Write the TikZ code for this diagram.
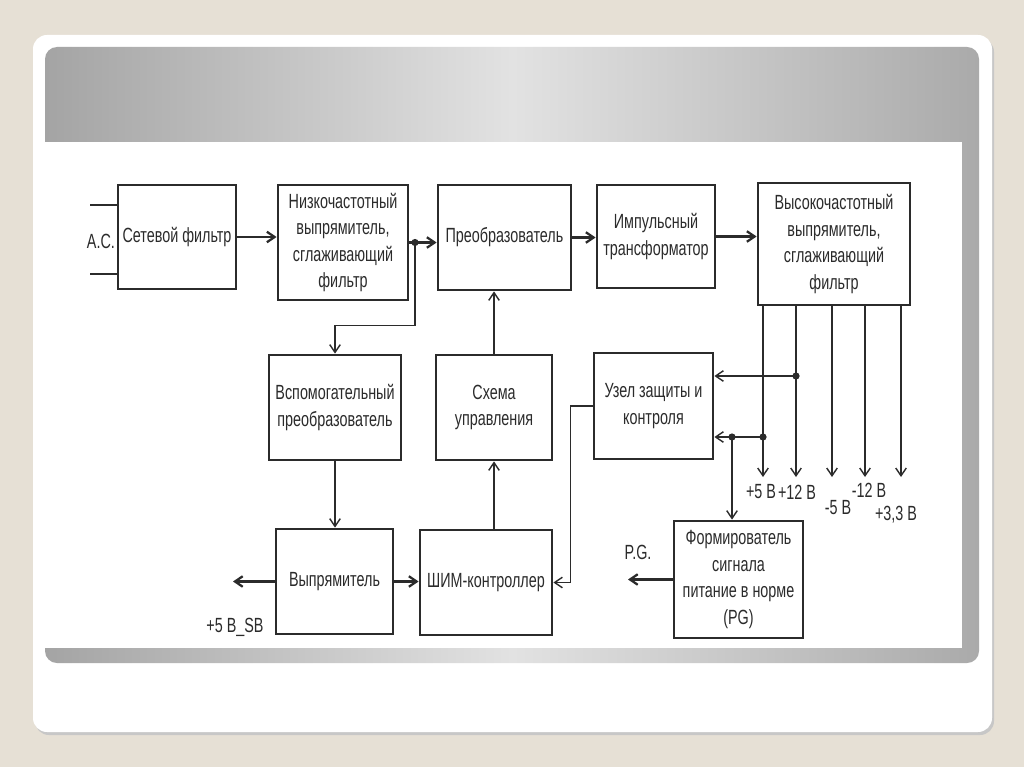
\documentclass[tikz,border=0pt]{standalone}
\usepackage{fontspec}
\setmainfont{Liberation Sans}[FakeStretch=0.7]
\usepackage{tikz}
\usetikzlibrary{positioning,arrows.meta}
\definecolor{ink}{HTML}{2B2B2B}
\definecolor{paper}{HTML}{E6E0D5}
\definecolor{bandl}{HTML}{A4A4A4}
\definecolor{bandm}{HTML}{E2E2E2}
\definecolor{bandr}{HTML}{AAAAAA}

\begin{document}
\begin{tikzpicture}[
  x=0.25mm, y=-0.25mm,
  >={Straight Barb[length=5.5pt,width=7.5pt]},
  blk/.style={draw=ink, line width=2pt, fill=white, align=center, text=ink, inner sep=2pt, font=\fontsize{14.6}{18.8}\selectfont},
  lbl/.style={text=ink, inner sep=0pt, align=center, font=\fontsize{14.6}{18.8}\selectfont},
  arr/.style={->, draw=ink, line width=1pt},
  harr/.style={arr, line width=1.6pt},
  wire/.style={draw=ink, line width=1.6pt}
]

  % Фон слайда
  \useasboundingbox (0,0) rectangle (1024,767);
  \fill[paper] (0,0) rectangle (1024,767);
  \fill[black!22, rounded corners=3.5mm] (35,38) rectangle (994,735);
  \fill[white, rounded corners=3.5mm] (33,35) rectangle (992,732);
  \shade[left color=bandl, right color=bandr, middle color=bandm, rounded corners=3mm] (45,47) rectangle (979,663);
  \fill[white] (45,142) rectangle (962,648);

  % Верхний ряд
  \node[blk, minimum width=29.5mm, minimum height=26mm] (net) at (177,237) {Сетевой фильтр};
  \node[blk, minimum width=32.5mm, minimum height=28.75mm] (lowf) at (343,242.5) {Низкочастотный\\выпрямитель,\\сглаживающий\\фильтр};
  \node[blk, minimum width=33.25mm, minimum height=26.25mm] (conv) at (504.5,237.5) {Преобразователь};
  \node[blk, minimum width=29.5mm, minimum height=25.75mm] (trans) at (656,236.5) {Импульсный\\трансформатор};
  \node[blk, minimum width=38mm, minimum height=30.5mm] (hf) at (834,244) {Высокочастотный\\выпрямитель,\\сглаживающий\\фильтр};

  % Средний ряд
  \node[blk, minimum width=33mm, minimum height=26.25mm] (aux) at (335,407.5) {Вспомогательный\\преобразователь};
  \node[blk, minimum width=29mm, minimum height=26.25mm] (ctrl) at (494,407.5) {Схема\\управления};
  \node[blk, minimum width=29.75mm, minimum height=26.5mm] (prot) at (653.5,406) {Узел защиты и\\контроля};

  % Нижний ряд
  \node[blk, minimum width=29.25mm, minimum height=26.25mm] (rect) at (334.5,581.5) {Выпрямитель};
  \node[blk, minimum width=33mm, minimum height=26.25mm] (pwm) at (486,582.5) {ШИМ-контроллер};
  \node[blk, minimum width=32.25mm, minimum height=29.25mm] (pg) at (738.5,579.5) {Формирователь\\сигнала\\питание в норме\\(PG)};

  % Вход сети
  \coordinate (ac1) at (90,205);
  \coordinate (ac2) at (90,274);
  \draw[wire] (ac1) -- (ac1 -| net.west);
  \draw[wire] (ac2) -- (ac2 -| net.west);
  \node[lbl, left=1pt of net.west, yshift=-1.2mm] (acl) {A.C.};

  % Силовой тракт
  \draw[harr] (net.east) -- (net.east -| lowf.west);
  \draw[harr] (lowf.east) -- (lowf.east -| conv.west);
  \draw[harr] (conv.east) -- (conv.east -| trans.west);
  \draw[harr] (trans.east) -- (trans.east -| hf.west);
  \coordinate (j1) at (415,242.5);
  \fill[ink] (j1) circle[radius=0.9mm];
  \draw[arr] (j1) -- ++(0,83) -| (aux.north);

  % Дежурный источник и управление
  \draw[arr] (aux.south) -- (aux.south |- rect.north);
  \draw[harr] (rect.east) -- (rect.east -| pwm.west);
  \coordinate (sb) at (233,581.5);
  \draw[harr] (rect.west) -- (sb);
  \node[lbl] (sbl) at (235,627) {+5 В\_SB};
  \draw[arr] (ctrl.south |- pwm.north) -- (ctrl.south);
  \draw[arr] (ctrl.north) -- (ctrl.north |- conv.south);
  \draw[arr] (prot.west) -- ++(-22,0) |- (pwm.east);

  % Выходные напряжения
  \foreach \vx/\vy/\lx/\txt [count=\i] in {763/492/761/{+5 В}, 796/492/797/{+12 В}, 832/508/838/{-5 В}, 865/490/869/{-12 В}, 901/515/896/{+3,3 В}} {
    \coordinate (o\i) at (\vx,477);
    \draw[arr] (o\i |- hf.south) -- (o\i);
    \node[lbl] (v\i) at (\lx,\vy) {\txt};
  }

  % Обратные связи
  \coordinate (d1) at (796,376);
  \coordinate (d2) at (763,437);
  \coordinate (d3) at (732,437);
  \draw[arr] (d1) -- (d1 -| prot.east);
  \draw[arr] (d2) -- (d2 -| prot.east);
  \draw[arr] (d3) -- (d3 |- pg.north);
  \foreach \d in {d1,d2,d3} \fill[ink] (\d) circle[radius=0.9mm];

  % Сигнал PG
  \coordinate (pgo) at (628,579.5);
  \draw[harr] (pg.west) -- (pgo);
  \node[lbl] (pgl) at (638,552) {P.G.};

\end{tikzpicture}
\end{document}
